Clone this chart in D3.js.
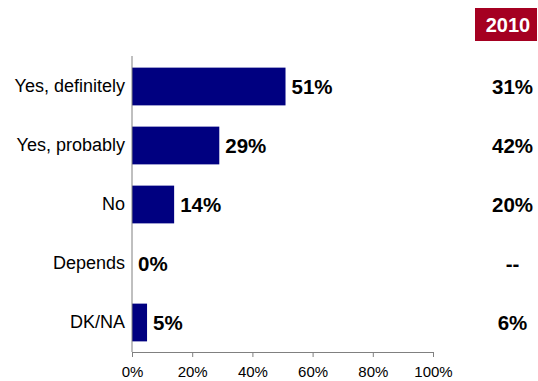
<!DOCTYPE html>
<html><head><meta charset="utf-8">
<script src="https://cdn.jsdelivr.net/npm/d3@7"></script>
<style>body{margin:0;background:#fff}svg{display:block}</style>
</head><body>
<script>
const categories = ["Yes, definitely","Yes, probably","No","Depends","DK/NA"];
const values = [51,29,14,0,5];
const values2010 = ["31%","42%","20%","--","6%"];
const ticks = [0,20,40,60,80,100];
const yearLabel = "2010";

const W=538,H=381;
const svg=d3.select("body").append("svg").attr("width",W).attr("height",H);
const font="'Liberation Sans', Arial, sans-serif";
const x=d3.scaleLinear().domain([0,100]).range([132,433]);
const y=d3.scaleBand().domain(categories).range([57,352]).paddingInner(0.36).paddingOuter(0.18);

svg.selectAll("rect.bar").data(categories).join("rect").attr("class","bar")
  .attr("x",x(0)).attr("y",d=>y(d)).attr("height",y.bandwidth())
  .attr("width",(d,i)=>x(values[i])-x(0)).attr("fill","#000080");

// x axis
const xa=svg.append("g").attr("transform","translate(0,352)")
  .call(d3.axisBottom(x).tickValues(ticks).tickFormat(d=>d+"%").tickSize(5).tickSizeOuter(0));
xa.select(".domain").attr("stroke","#808080");
xa.selectAll(".tick line").attr("stroke","#808080");
xa.selectAll("text").attr("font-family",font).attr("font-size",15).attr("fill","#000").attr("dy","1.13em");

// y axis
const ya=svg.append("g").attr("transform",`translate(${x(0)},0)`)
  .call(d3.axisLeft(y).tickSize(0).tickPadding(7));
ya.select(".domain").attr("stroke","#808080").attr("d","M0,56V352");
ya.selectAll("text").attr("font-family",font).attr("font-size",18).attr("fill","#000");

// value labels
svg.selectAll("text.val").data(categories).join("text").attr("class","val")
  .attr("x",(d,i)=>x(values[i])+6).attr("y",d=>y(d)+y.bandwidth()/2).attr("dy","0.36em")
  .attr("font-family",font).attr("font-weight","bold").attr("font-size",20.5)
  .text((d,i)=>values[i]+"%");

// 2010 column
svg.append("rect").attr("x",475).attr("y",8).attr("width",62).attr("height",33).attr("fill","#A50021");
svg.append("text").attr("x",508).attr("y",24.5).attr("dy","0.36em").attr("text-anchor","middle")
  .attr("font-family",font).attr("font-weight","bold").attr("font-size",20).attr("fill","#fff").text(yearLabel);
svg.selectAll("text.v10").data(categories).join("text").attr("class","v10")
  .attr("x",512.5).attr("y",d=>y(d)+y.bandwidth()/2).attr("dy","0.36em").attr("text-anchor","middle")
  .attr("font-family",font).attr("font-weight","bold").attr("font-size",20.5)
  .text((d,i)=>values2010[i]);
</script>
</body></html>
